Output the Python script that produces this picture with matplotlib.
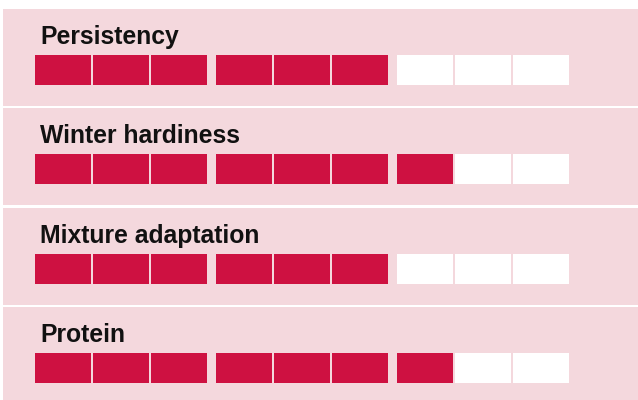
import matplotlib
matplotlib.use('Agg')
import matplotlib.pyplot as plt
from matplotlib.patches import Rectangle
import numpy as np

# data
traits = ['Persistency', 'Winter hardiness', 'Mixture adaptation', 'Protein']
scores = [6, 7, 6, 7]
max_score = 9

# styles
crimson = '#ce1141'
pink = '#f4d8dd'
W, H = 638, 400
row_step = 99.3

fig = plt.figure(figsize=(W / 100, H / 100), dpi=100)
ax = fig.add_axes([0, 0, 1, 1])
ax.set_xlim(0, W)
ax.set_ylim(H, 0)
ax.axis('off')

idx = np.arange(max_score)
cell_x = 35 + idx * 58 + (idx // 3) * 7  # 3 groups of 3 cells

for i, (name, sc) in enumerate(zip(traits, scores)):
    top = 9 + i * row_step
    ax.add_patch(Rectangle((3, top), W - 3, 97, facecolor=pink, edgecolor='none', zorder=0))
    ax.text(40, top + 35, name, fontsize=17.8, fontweight='bold', family='Liberation Sans',
            color='#111111', va='baseline', ha='left')
    colors = [crimson if k < sc else 'white' for k in idx]
    ax.bar(cell_x, 30, width=56, bottom=top + 46, align='edge', color=colors,
           edgecolor='none', zorder=2)

fig.savefig('out.png', dpi=100)
